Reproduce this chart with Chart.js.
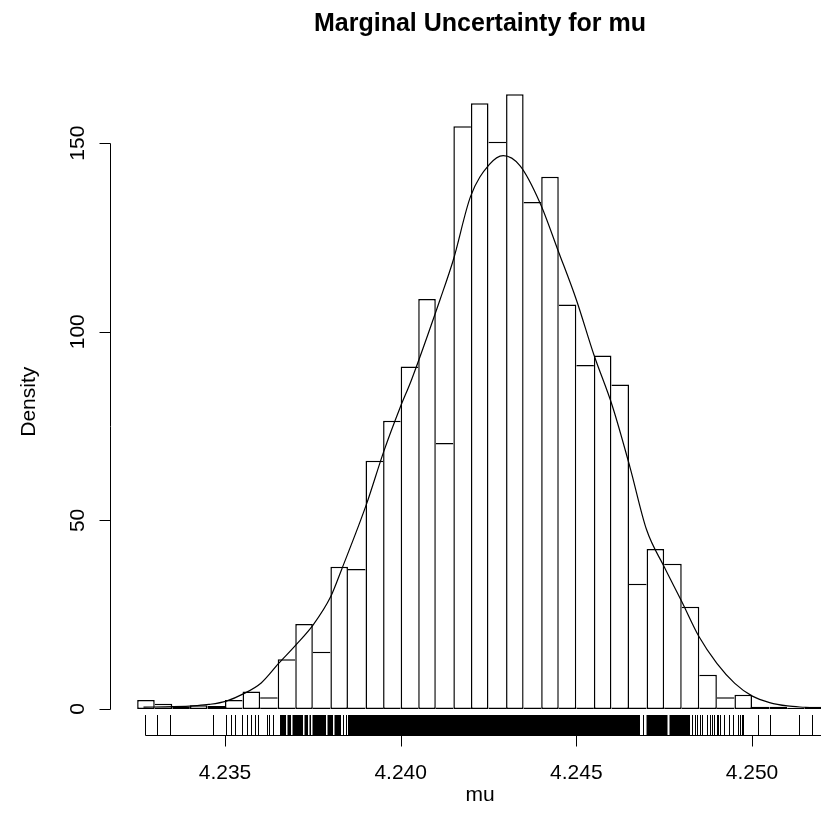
<!DOCTYPE html>
<html>
<head>
<meta charset="utf-8">
<title>Marginal Uncertainty for mu</title>
<script src="https://cdn.jsdelivr.net/npm/chart.js@4.4.1/dist/chart.umd.min.js"></script>
<style>
  html, body { margin: 0; padding: 0; background: #fff; overflow: hidden; }
  canvas { display: block; }
</style>
</head>
<body>
<canvas id="histChart" width="821" height="831"></canvas>
<script>
// Histogram bin edges and bar densities
const breaks = [
    4.2325, 4.2330, 4.2335, 4.2340, 4.2345, 4.2350, 4.2355, 4.2360, 4.2365, 4.2370,
    4.2375, 4.2380, 4.2385, 4.2390, 4.2395, 4.2400, 4.2405, 4.2410, 4.2415, 4.2420,
    4.2425, 4.2430, 4.2435, 4.2440, 4.2445, 4.2450, 4.2455, 4.2460, 4.2465, 4.2470,
    4.2475, 4.2480, 4.2485, 4.2490, 4.2495, 4.2500, 4.2505, 4.2510, 4.2515, 4.2520
];
const densities = [
    2.4, 1.4, 0.6, 1.0, 0.8, 2.4, 4.6, 3.1, 13.2, 22.5,
    15.2, 37.7, 37.1, 65.8, 76.4, 90.8, 108.7, 70.5, 154.5, 160.6,
    150.4, 163.0, 134.4, 141.1, 107.2, 91.2, 93.7, 86.0, 33.2, 42.4,
    38.5, 27.1, 9.1, 3.1, 3.8, 0.6, 0.6, 0.3, 0.6
];

// Kernel density estimate laid over the bars
const curveX = [
    4.23268, 4.23353, 4.23420, 4.23454, 4.23504, 4.23552, 4.23603, 4.23652, 4.23702, 4.23751,
    4.23801, 4.23832, 4.23902, 4.23952, 4.23998, 4.24031, 4.24112, 4.24150, 4.24199, 4.24252,
    4.24292, 4.24340, 4.24397, 4.24449, 4.24500, 4.24550, 4.24603, 4.24653, 4.24700, 4.24750,
    4.24800, 4.24849, 4.24900, 4.24951, 4.25001, 4.25050, 4.25101, 4.25150, 4.25194
];
const curveY = [
    0.5, 0.6, 0.9, 1.2, 2.1, 4.0, 6.9, 12.0, 17.0, 22.3,
    29.8, 37.0, 54.1, 68.3, 79.8, 87.3, 108.5, 119.1, 135.9, 144.3,
    146.7, 144.0, 134.1, 121.3, 108.5, 93.9, 80.2, 64.0, 47.5, 37.7,
    28.5, 19.2, 12.1, 6.8, 3.4, 1.7, 0.8, 0.45, 0.2
];

// Rug: single draws in the tails, solid stretches where draws pile up
const rugValues = [
    4.232723, 4.233056, 4.233435, 4.234667, 4.235029, 4.235171, 4.235285, 4.235493,
    4.235618, 4.235732, 4.235854, 4.235948, 4.236187, 4.236261, 4.236358,
    4.238373, 4.238444, 4.246907,
    4.248284, 4.248378, 4.248444, 4.248520, 4.248569, 4.248711, 4.248805, 4.248870,
    4.248927, 4.248996, 4.249041, 4.249090, 4.249203, 4.249346, 4.249451, 4.249611,
    4.249659, 4.249707, 4.249753, 4.250180, 4.250513, 4.251347, 4.251717, 4.251990
];
const rugBandStart = [4.236566, 4.236779, 4.236922, 4.237263, 4.237405, 4.237491, 4.237918, 4.238117, 4.238501, 4.246998, 4.247652];
const rugBandEnd   = [4.236737, 4.236879, 4.237220, 4.237363, 4.237448, 4.237875, 4.238074, 4.238302, 4.246812, 4.247595, 4.248236];

const xTicks = [4.235, 4.240, 4.245, 4.250];
const xTickLabels = ['4.235', '4.240', '4.245', '4.250'];
const yTicks = [0, 50, 100, 150];

const histData = densities.map((d, i) => ({ x: (breaks[i] + breaks[i + 1]) / 2, y: d }));
const curveData = curveX.map((x, i) => ({ x: x, y: curveY[i] }));

const FONT = '"Liberation Sans", Arial, sans-serif';
const EDGE = 1.5;

// Each shared edge between two bars is drawn once, by the taller bar,
// so it reaches the top of whichever rectangle is higher.
function barBorder(ctx) {
    const i = ctx.dataIndex;
    if (i === undefined) return EDGE;
    const h = densities[i];
    const drawLeft = i === 0 || densities[i - 1] < h;
    const drawRight = i === densities.length - 1 || densities[i + 1] <= h;
    return { top: EDGE, bottom: EDGE, left: drawLeft ? EDGE : 0, right: drawRight ? EDGE : 0 };
}

// Base-graphics look: axes that stop at the end ticks, rug, titles
const baseGraphics = {
    id: 'baseGraphics',
    afterDatasetsDraw(chart) {
        const ctx = chart.ctx;
        const xs = chart.scales.x;
        const ys = chart.scales.y;
        const area = chart.chartArea;
        const px = v => Math.round(xs.getPixelForValue(v)) + 0.5;
        const py = v => Math.round(ys.getPixelForValue(v)) + 0.5;

        ctx.save();
        ctx.strokeStyle = '#000';
        ctx.fillStyle = '#000';
        ctx.lineWidth = 1;

        // rug ticks rise 3% of the plot height from the bottom edge
        const base = Math.round(area.bottom) + 0.5;
        const rugTop = Math.round(area.bottom - (area.bottom - area.top) * 0.03);
        ctx.beginPath();
        rugValues.forEach(v => {
            ctx.moveTo(px(v), base);
            ctx.lineTo(px(v), rugTop);
        });
        ctx.stroke();
        rugBandStart.forEach((s, i) => {
            const x0 = xs.getPixelForValue(s);
            const x1 = xs.getPixelForValue(rugBandEnd[i]);
            ctx.fillRect(x0, rugTop, x1 - x0, base - rugTop);
        });
        ctx.beginPath();
        ctx.moveTo(px(Math.min(...rugValues)), base);
        ctx.lineTo(px(Math.max(...rugValues)), base);
        ctx.stroke();

        // x axis
        ctx.beginPath();
        ctx.moveTo(px(xTicks[0]), base);
        ctx.lineTo(px(xTicks[xTicks.length - 1]), base);
        xTicks.forEach(v => {
            ctx.moveTo(px(v), base);
            ctx.lineTo(px(v), base + 11);
        });
        ctx.stroke();
        ctx.font = '21px ' + FONT;
        ctx.textAlign = 'center';
        ctx.textBaseline = 'alphabetic';
        xTicks.forEach((v, i) => ctx.fillText(xTickLabels[i], xs.getPixelForValue(v), 779));

        // y axis
        const left = Math.round(area.left) + 0.5;
        ctx.beginPath();
        ctx.moveTo(left, py(yTicks[0]));
        ctx.lineTo(left, py(yTicks[yTicks.length - 1]));
        yTicks.forEach(v => {
            ctx.moveTo(left, py(v));
            ctx.lineTo(left - 11, py(v));
        });
        ctx.stroke();
        yTicks.forEach(v => {
            ctx.save();
            ctx.translate(83.5, ys.getPixelForValue(v));
            ctx.rotate(-Math.PI / 2);
            ctx.fillText(String(v), 0, 0);
            ctx.restore();
        });

        // axis titles
        const plotMid = (area.top + area.bottom) / 2;
        ctx.fillText('mu', 480, 801);
        ctx.save();
        ctx.translate(35, plotMid);
        ctx.rotate(-Math.PI / 2);
        ctx.fillText('Density', 0, 0);
        ctx.restore();

        // main title
        ctx.font = 'bold 25px ' + FONT;
        ctx.fillText('Marginal Uncertainty for mu', 480, 30.5);
        ctx.restore();
    }
};

new Chart(document.getElementById('histChart'), {
    type: 'bar',
    data: {
        datasets: [
            {
                type: 'line',
                label: 'density',
                data: curveData,
                borderColor: '#000',
                borderWidth: 1.2,
                pointRadius: 0,
                cubicInterpolationMode: 'monotone',
                fill: false,
                order: 0
            },
            {
                type: 'bar',
                label: 'mu',
                data: histData,
                backgroundColor: '#fff',
                borderColor: '#000',
                borderWidth: barBorder,
                borderSkipped: false,
                inflateAmount: 0,
                barPercentage: 1,
                categoryPercentage: 1,
                order: 1
            }
        ]
    },
    options: {
        responsive: false,
        devicePixelRatio: 1,
        animation: false,
        events: [],
        layout: { padding: { left: 110, top: 68.5, right: 0, bottom: 96 } },
        plugins: {
            legend: { display: false },
            title: { display: false },
            tooltip: { enabled: false }
        },
        scales: {
            x: {
                type: 'linear',
                display: false,
                offset: false,
                min: 4.231727,
                max: 4.251964,
                afterBuildTicks: scale => { scale.ticks = xTicks.map(v => ({ value: v })); }
            },
            y: {
                type: 'linear',
                display: false,
                min: -6.9,
                max: 169.8,
                afterBuildTicks: scale => { scale.ticks = yTicks.map(v => ({ value: v })); }
            }
        }
    },
    plugins: [baseGraphics]
});
</script>
</body>
</html>
